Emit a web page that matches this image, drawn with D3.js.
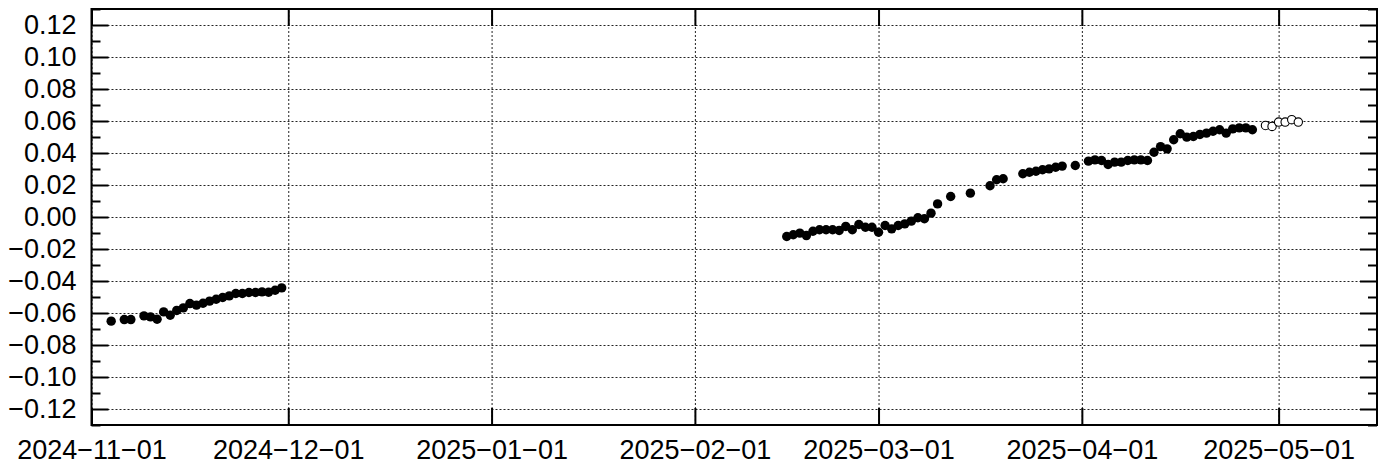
<!DOCTYPE html>
<html>
<head>
<meta charset="utf-8">
<script src="https://cdn.jsdelivr.net/npm/d3@7"></script>
<style>
  html, body { margin: 0; padding: 0; background: #fff; }
  svg { display: block; }
  text { font-family: "Liberation Sans", Arial, Helvetica, sans-serif; }
</style>
</head>
<body>
<svg id="chart" width="1390" height="464"></svg>
<script>
// ---- data ----
const filledDates = [
  "2024-11-04","2024-11-06","2024-11-07","2024-11-09","2024-11-10","2024-11-11","2024-11-12","2024-11-13",
  "2024-11-14","2024-11-15","2024-11-16","2024-11-17","2024-11-18","2024-11-19","2024-11-20","2024-11-21",
  "2024-11-22","2024-11-23","2024-11-24","2024-11-25","2024-11-26","2024-11-27","2024-11-28","2024-11-29",
  "2024-11-30",
  "2025-02-15","2025-02-16","2025-02-17","2025-02-18","2025-02-19","2025-02-20","2025-02-21","2025-02-22",
  "2025-02-23","2025-02-24","2025-02-25","2025-02-26","2025-02-27","2025-02-28","2025-03-01","2025-03-02",
  "2025-03-03","2025-03-04","2025-03-05","2025-03-06","2025-03-07","2025-03-08","2025-03-09","2025-03-10",
  "2025-03-12","2025-03-15","2025-03-18","2025-03-19","2025-03-20","2025-03-23","2025-03-24","2025-03-25",
  "2025-03-26","2025-03-27","2025-03-28","2025-03-29","2025-03-31","2025-04-02","2025-04-03","2025-04-04",
  "2025-04-05","2025-04-06","2025-04-07","2025-04-08","2025-04-09","2025-04-10","2025-04-11","2025-04-12",
  "2025-04-13","2025-04-14","2025-04-15","2025-04-16","2025-04-17","2025-04-18","2025-04-19","2025-04-20",
  "2025-04-21","2025-04-22","2025-04-23","2025-04-24","2025-04-25","2025-04-26","2025-04-27"
];
const filledValues = [
  -0.0651,-0.0641,-0.0641,-0.0618,-0.0624,-0.0639,-0.0593,-0.0614,
  -0.0584,-0.0568,-0.0541,-0.0551,-0.0539,-0.0526,-0.0514,-0.0503,
  -0.0493,-0.0478,-0.0478,-0.0472,-0.0472,-0.0468,-0.0470,-0.0458,
  -0.0443,
  -0.0122,-0.0111,-0.0101,-0.0116,-0.0089,-0.0080,-0.0080,-0.0080,
  -0.0084,-0.0059,-0.0080,-0.0047,-0.0064,-0.0064,-0.0095,-0.0053,
  -0.0074,-0.0053,-0.0043,-0.0026,-0.0005,-0.0011,0.0024,0.0082,
  0.0128,0.0149,0.0195,0.0233,0.0239,0.0270,0.0280,0.0286,
  0.0295,0.0301,0.0311,0.0318,0.0322,0.0349,0.0357,0.0353,
  0.0328,0.0343,0.0343,0.0353,0.0357,0.0357,0.0353,0.0405,
  0.0440,0.0426,0.0483,0.0520,0.0499,0.0503,0.0516,0.0524,
  0.0536,0.0545,0.0524,0.0551,0.0557,0.0557,0.0545
];
const openDates = ["2025-04-29","2025-04-30","2025-05-01","2025-05-02","2025-05-03","2025-05-04"];
const openValues = [0.0572,0.0566,0.0593,0.0593,0.0608,0.0593];

const xTickLabels = ["2024-11-01","2024-12-01","2025-01-01","2025-02-01","2025-03-01","2025-04-01","2025-05-01"];
const xDomain = ["2024-11-01","2025-05-16"];
const yTicks = [-0.12,-0.10,-0.08,-0.06,-0.04,-0.02,0.00,0.02,0.04,0.06,0.08,0.10,0.12];
const yMinorTicks = [-0.13,-0.11,-0.09,-0.07,-0.05,-0.03,-0.01,0.01,0.03,0.05,0.07,0.09,0.11,0.13];
const yDomain = [-0.13, 0.13];

// ---- layout ----
const parse = d3.utcParse("%Y-%m-%d");
const svg = d3.select("#chart");
const m = { left: 91.5, right: 13, top: 9, bottom: 39 };
const W = 1390, H = 464;
const w = W - m.left - m.right, h = H - m.top - m.bottom;
const g = svg.append("g").attr("transform", `translate(${m.left},${m.top})`);

const x = d3.scaleUtc().domain(xDomain.map(parse)).range([0, w]);
const y = d3.scaleLinear().domain(yDomain).range([h, 0]);

const minus = s => s.replace(/-/g, "\u2212");
const yFmt = d => minus((Math.abs(d) < 1e-9 ? 0 : d).toFixed(2));
const xTickDates = xTickLabels.map(parse);
const xFmt = d => minus(d3.utcFormat("%Y-%m-%d")(d));

// grid
const gridStyle = sel => {
  sel.select(".domain").remove();
  sel.selectAll(".tick line").attr("stroke", "#222").attr("stroke-width", 1).attr("stroke-dasharray", "2,2");
};
g.append("g").call(d3.axisLeft(y).tickValues(yTicks).tickSize(-w).tickFormat("")).call(gridStyle);
g.append("g").attr("transform", `translate(0,${h})`)
  .call(d3.axisBottom(x).tickValues(xTickDates).tickSize(-h).tickFormat("")).call(gridStyle);

// data
const filled = filledDates.map((d, i) => ({ d: parse(d), v: filledValues[i] }));
const open = openDates.map((d, i) => ({ d: parse(d), v: openValues[i] }));

g.append("g").selectAll("circle").data(filled).join("circle")
  .attr("cx", p => x(p.d)).attr("cy", p => y(p.v)).attr("r", 4.7).attr("fill", "#000");
g.append("g").selectAll("circle").data(open).join("circle")
  .attr("cx", p => x(p.d)).attr("cy", p => y(p.v)).attr("r", 4.2)
  .attr("fill", "#fff").attr("stroke", "#000").attr("stroke-width", 1.1);

// axes
const axisStyle = sel => {
  sel.select(".domain").remove();
  sel.selectAll(".tick line").attr("stroke", "#000").attr("stroke-width", 2);
  sel.selectAll(".tick text").attr("fill", "#000").style("font-size", "27px")
    .style("font-family", "'Liberation Sans', Arial, Helvetica, sans-serif");
};
g.append("g").call(d3.axisLeft(y).tickValues(yTicks).tickSize(-17).tickPadding(15).tickFormat(yFmt)).call(axisStyle);
g.append("g").call(d3.axisLeft(y).tickValues(yMinorTicks).tickSize(-9).tickFormat("")).call(axisStyle);
g.append("g").attr("transform", `translate(${w},0)`)
  .call(d3.axisRight(y).tickValues(yTicks).tickSize(-17).tickFormat("")).call(axisStyle);
g.append("g").attr("transform", `translate(${w},0)`)
  .call(d3.axisRight(y).tickValues(yMinorTicks).tickSize(-9).tickFormat("")).call(axisStyle);
g.append("g").attr("transform", `translate(0,${h})`)
  .call(d3.axisBottom(x).tickValues(xTickDates).tickSize(-17).tickPadding(15).tickFormat(xFmt)).call(axisStyle);
g.append("g")
  .call(d3.axisTop(x).tickValues(xTickDates).tickSize(-17).tickFormat("")).call(axisStyle);

// frame
g.append("rect").attr("x", 0).attr("y", 0).attr("width", w).attr("height", h)
  .attr("fill", "none").attr("stroke", "#000").attr("stroke-width", 2);
</script>
</body>
</html>
